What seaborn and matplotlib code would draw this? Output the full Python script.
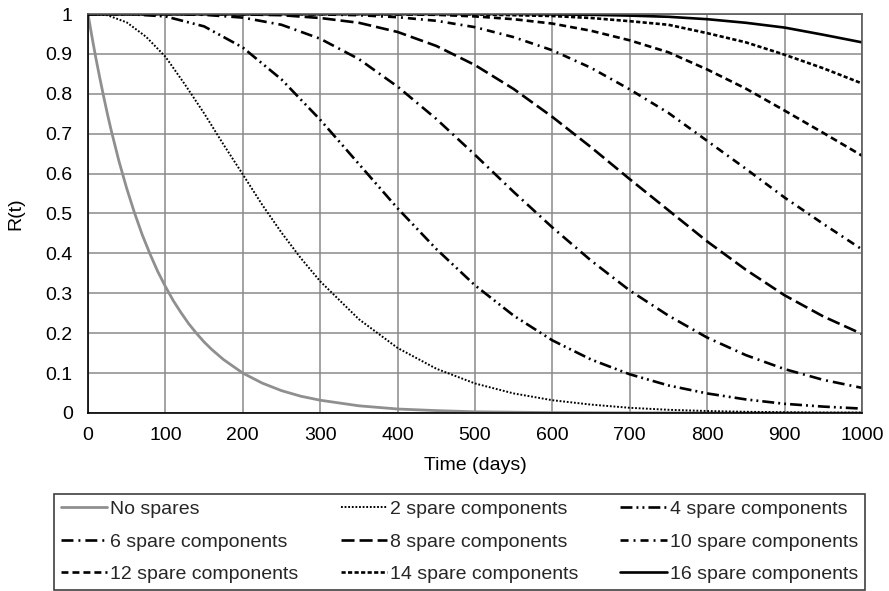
import matplotlib
matplotlib.use("Agg")
import matplotlib.pyplot as plt
import seaborn as sns

# values
days = [0, 50, 100, 150, 200, 250, 300, 350, 400, 450, 500,
        550, 600, 650, 700, 750, 800, 850, 900, 950, 1000]

no_spare_days = [0, 5, 10, 15, 20, 25, 30, 40, 50, 60, 70, 80, 90, 100, 110, 120, 130,
                 140, 150, 160, 175, 200, 225, 250, 275, 300, 350, 400, 450, 500,
                 600, 700, 800, 1000]
no_spare_r = [1, 0.944, 0.891, 0.842, 0.795, 0.750, 0.708, 0.631, 0.563, 0.502, 0.447,
              0.399, 0.355, 0.317, 0.282, 0.252, 0.224, 0.200, 0.178, 0.159, 0.134,
              0.100, 0.075, 0.056, 0.042, 0.032, 0.018, 0.010, 0.006, 0.003,
              0.001, 0.0003, 0.0001, 0]

two_spare_days = [0, 25, 50, 75, 100, 125, 150, 175, 200, 225, 250, 275, 300, 350, 400,
                  450, 500, 550, 600, 650, 700, 750, 800, 850, 900, 950, 1000]
r2 = [1, 0.997, 0.979, 0.943, 0.893, 0.824, 0.751, 0.673, 0.598, 0.522, 0.452, 0.388,
      0.330, 0.235, 0.163, 0.111, 0.074, 0.049, 0.032, 0.021, 0.013, 0.008, 0.005,
      0.003, 0.002, 0.001, 0.001]

r4 = [1, 1.0, 0.994, 0.969, 0.916, 0.836, 0.735, 0.624, 0.513, 0.411, 0.320,
      0.244, 0.182, 0.134, 0.097, 0.069, 0.049, 0.034, 0.023, 0.016, 0.011]
r6 = [1, 1, 1, 0.998, 0.991, 0.973, 0.938, 0.887, 0.818, 0.737, 0.647,
      0.554, 0.465, 0.382, 0.307, 0.244, 0.189, 0.145, 0.110, 0.083, 0.063]
r8 = [1, 1, 1, 1, 0.999, 0.997, 0.990, 0.978, 0.955, 0.920, 0.872,
      0.812, 0.742, 0.666, 0.586, 0.508, 0.430, 0.359, 0.295, 0.242, 0.198]
r10 = [1, 1, 1, 1, 1, 1, 0.999, 0.997, 0.992, 0.983, 0.967,
       0.942, 0.909, 0.865, 0.811, 0.752, 0.682, 0.612, 0.540, 0.474, 0.410]
r12 = [1, 1, 1, 1, 1, 1, 1, 1.0, 0.999, 0.998, 0.994,
       0.987, 0.976, 0.958, 0.934, 0.904, 0.861, 0.813, 0.758, 0.702, 0.645]
r14 = [1, 1, 1, 1, 1, 1, 1, 1, 1, 1.0, 0.999,
       0.997, 0.995, 0.990, 0.982, 0.973, 0.952, 0.929, 0.898, 0.864, 0.826]
r16 = [1, 1, 1, 1, 1, 1, 1, 1, 1, 1, 1,
       1, 0.999, 0.998, 0.996, 0.993, 0.987, 0.978, 0.966, 0.948, 0.929]

labels = ["No spares", "2 spare components", "4 spare components",
          "6 spare components", "8 spare components", "10 spare components",
          "12 spare components", "14 spare components", "16 spare components"]

sns.set_theme(style="white")
plt.rcParams['font.family'] = ['Liberation Sans', 'DejaVu Sans']
plt.rcParams['lines.scale_dashes'] = False

fig = plt.figure(figsize=(8.89, 5.91), dpi=100)
ax = fig.add_axes([0.099, 0.3012, 0.8706, 0.6751])

# (x, y, colour, width, dash pattern in points)
series = [
    (no_spare_days, no_spare_r, "#8f8f8f", 2.0, None),
    (two_spare_days, r2, "black", 1.4, (1.3, 1.3)),
    (days, r4, "black", 1.9, (8.6, 2.9, 1.4, 2.9, 1.4, 2.9)),
    (days, r6, "black", 1.9, (8.6, 3.6, 1.4, 3.6)),
    (days, r8, "black", 1.9, (9.4, 3.6)),
    (days, r10, "black", 1.9, (5.8, 3.6, 1.4, 3.6)),
    (days, r12, "black", 1.9, (5.0, 2.9)),
    (days, r14, "black", 1.9, (3.0, 1.7)),
    (days, r16, "black", 1.9, None),
]

for (x, y, c, lw, dash), name in zip(series, labels):
    ls = "-" if dash is None else (0, dash)
    sns.lineplot(x=x, y=y, ax=ax, color=c, linewidth=lw, linestyle=ls, label=name)

ax.set_xlim(0, 1000)
ax.set_ylim(0, 1)
ax.set_xticks(range(0, 1001, 100))
ax.set_yticks([i / 10 for i in range(11)])
ax.set_yticklabels([f"{i / 10:g}" for i in range(11)])
ax.tick_params(axis="both", length=0, labelsize=14, colors="black")
ax.tick_params(axis="x", pad=10)
ax.tick_params(axis="y", pad=11)
ax.grid(True, color="#8a8a8a", linewidth=1.1)
ax.set_axisbelow(True)

for side in ["left", "bottom"]:
    ax.spines[side].set_color("black")
    ax.spines[side].set_linewidth(1.2)
for side in ["top", "right"]:
    ax.spines[side].set_color("#5a5a5a")
    ax.spines[side].set_linewidth(1.2)

ax.set_xlabel("Time (days)", fontsize=14, color="black")
ax.set_ylabel("R(t)", fontsize=14, color="black")
ax.xaxis.set_label_coords(0.5, -0.11)
ax.yaxis.set_label_coords(-0.082, 0.5)

# legend rows are filled left to right, matplotlib fills columns
handles, names = ax.get_legend_handles_labels()
ax.get_legend().remove()
order = [0, 3, 6, 1, 4, 7, 2, 5, 8]
leg = fig.legend([handles[i] for i in order], [names[i] for i in order],
                 ncol=3, loc="lower left", mode="expand",
                 bbox_to_anchor=(0.0607, 0.002, 0.9123, 0.164),
                 borderaxespad=0,
                 fontsize=14, handlelength=2.4, handletextpad=0.15,
                 columnspacing=1.0, labelspacing=0.76, borderpad=0.35,
                 fancybox=False, framealpha=1, edgecolor="#404040")
leg.get_frame().set_linewidth(1.2)

fig.savefig("out.png", dpi=100, facecolor="white")
